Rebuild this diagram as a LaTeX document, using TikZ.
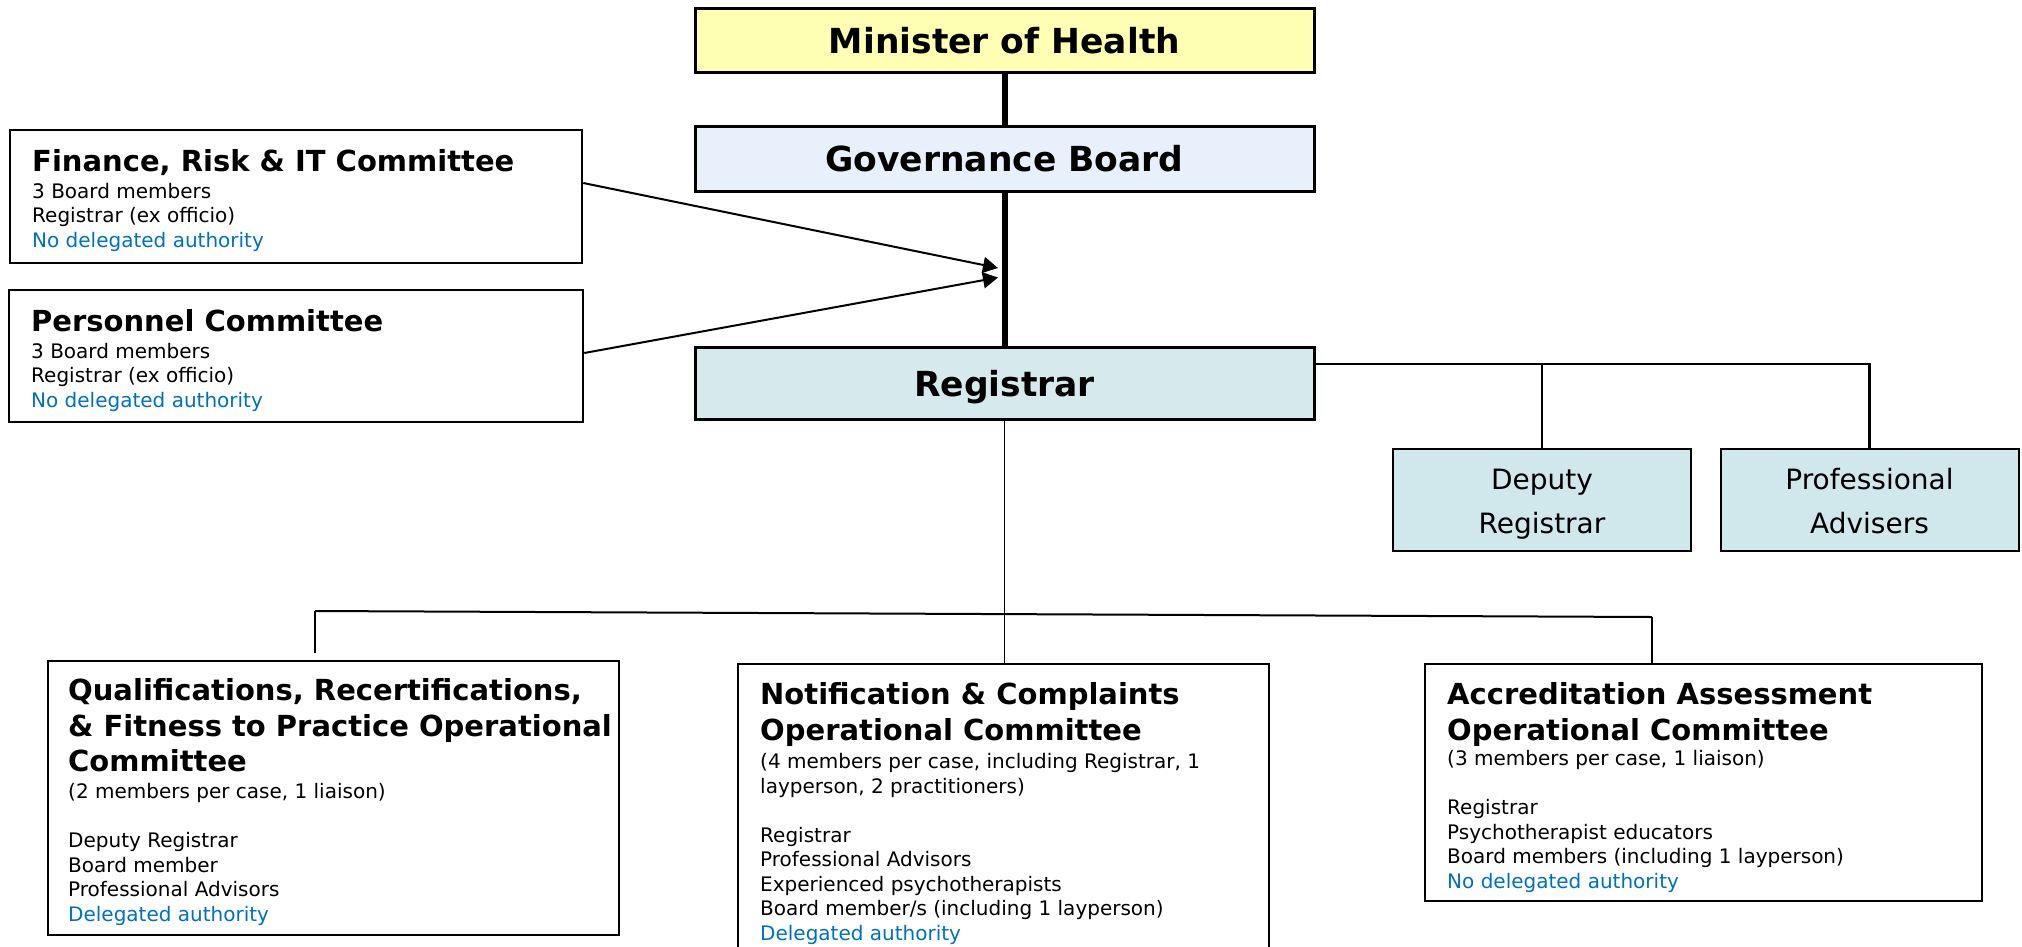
\documentclass[tikz,border=0pt]{standalone}
\usepackage{fontspec}
\setmainfont{DejaVu Sans}
\usetikzlibrary{arrows.meta}
\definecolor{minfill}{RGB}{255,255,180}
\definecolor{govfill}{RGB}{232,240,252}
\definecolor{regfill}{RGB}{214,234,238}
\definecolor{depfill}{RGB}{208,232,236}
\definecolor{blu}{RGB}{0,112,192}
\begin{document}
\begin{tikzpicture}[x=1pt,y=-1pt,
  topbox/.style={draw, line width=3pt, minimum width=619pt, inner sep=0pt,
    text depth=0pt, font=\bfseries\fontsize{34.5}{40}\selectfont},
  sidebox/.style={draw, line width=2.5pt, inner sep=0pt},
  opbox/.style={draw, line width=2pt, inner sep=0pt},
  subbox/.style={draw, line width=2pt, fill=depfill, inner sep=0pt, minimum width=298pt,
    minimum height=102pt},
  subtxt/.style={anchor=base, inner sep=0pt, align=center, font=\fontsize{28}{44}\selectfont},
  ttl/.style={anchor=base west, inner sep=0pt, align=left, font=\bfseries\fontsize{29}{35.5}\selectfont},
  body/.style={anchor=base west, inner sep=0pt, align=left, font=\fontsize{20}{24.5}\selectfont},
  arr/.style={line width=2pt, -{Triangle[length=15pt,width=16pt]}},
  conn/.style={line width=2pt}
]
\useasboundingbox (0,0) rectangle (2022,946);

% top chain
\node[topbox, fill=minfill, minimum height=64pt] (min) at (1004.5,40) {Minister of Health};
\node[topbox, fill=govfill, minimum height=65pt] (gov) at (1004.5,158.5) {Governance Board};
\node[topbox, fill=regfill, minimum height=72pt] (reg) at (1004.5,383) {Registrar};
\draw[line width=6pt] (min.south) -- (gov.north);
\draw[line width=6pt] (gov.south) -- (reg.north);

% side committees
\node[sidebox, minimum width=572pt, minimum height=133pt] (fin) at (296,196.5) {};
\node[ttl] (fint) at (32,171) {Finance, Risk \& IT Committee};
\node[body] (finb) at (32,247) {3 Board members\\Registrar (ex officio)\\\textcolor{blu}{No delegated authority}};

\node[sidebox, minimum width=574pt, minimum height=132pt] (per) at (296,356) {};
\node[ttl] (pert) at (31,331) {Personnel Committee};
\node[body] (perb) at (31,407) {3 Board members\\Registrar (ex officio)\\\textcolor{blu}{No delegated authority}};

\coordinate (t1) at (998,268);
\coordinate (t2) at (998,277.5);
\draw[arr] ([yshift=13.5pt]fin.east) -- (t1);
\draw[arr] ([yshift=3pt]per.east) -- (t2);

% deputy & advisers
\node[subbox] (dep) at (1542,500) {};
\node[subtxt] (dept) at (1542,533) {Deputy\\Registrar};
\node[subbox] (pro) at (1869.5,500) {};
\node[subtxt] (prot) at (1869.5,533) {Professional\\Advisers};
\coordinate (rr) at (1869.5,364);
\draw[line width=2.5pt] (reg.east |- rr) -- (rr) -- (pro.north);
\draw[line width=2pt] (dep.north |- rr) -- (dep.north);

% operational committees
\node[opbox, minimum width=571pt, minimum height=274pt] (qual) at (333.5,798) {};
\node[ttl] (qualt) at (68,771.5) {Qualifications, Recertifications,\\\& Fitness to Practice Operational\\Committee};
\node[body] (qualb) at (68,921) {(2 members per case, 1 liaison)\\[24.5pt]Deputy Registrar\\Board member\\Professional Advisors\\\textcolor{blu}{Delegated authority}};

\node[opbox, minimum width=531pt, minimum height=300pt] (not) at (1003.5,814) {};
\node[ttl] (nott) at (760,740) {Notification \& Complaints\\Operational Committee};
\node[body] (notb) at (760,940) {(4 members per case, including Registrar, 1\\layperson, 2 practitioners)\\[24.5pt]Registrar\\Professional Advisors\\Experienced psychotherapists\\Board member/s (including 1 layperson)\\\textcolor{blu}{Delegated authority}};

\node[opbox, minimum width=557pt, minimum height=237pt] (acc) at (1703.5,782.5) {};
\node[ttl] (acct) at (1447,740) {Accreditation Assessment\\Operational Committee};
\node[body] (accb) at (1447,888) {(3 members per case, 1 liaison)\\[24.5pt]Registrar\\Psychotherapist educators\\Board members (including 1 layperson)\\\textcolor{blu}{No delegated authority}};

\coordinate (hL) at (315,611);
\coordinate (hR) at (1652,617);
\draw[line width=1.5pt] (reg.south) -- (reg.south |- not.north);
\draw[conn] (hL) -- (hR);
\draw[conn] (hL) -- ([yshift=7pt]hL |- qual.north);
\draw[conn] (hR) -- (hR |- acc.north);
\end{tikzpicture}
\end{document}
